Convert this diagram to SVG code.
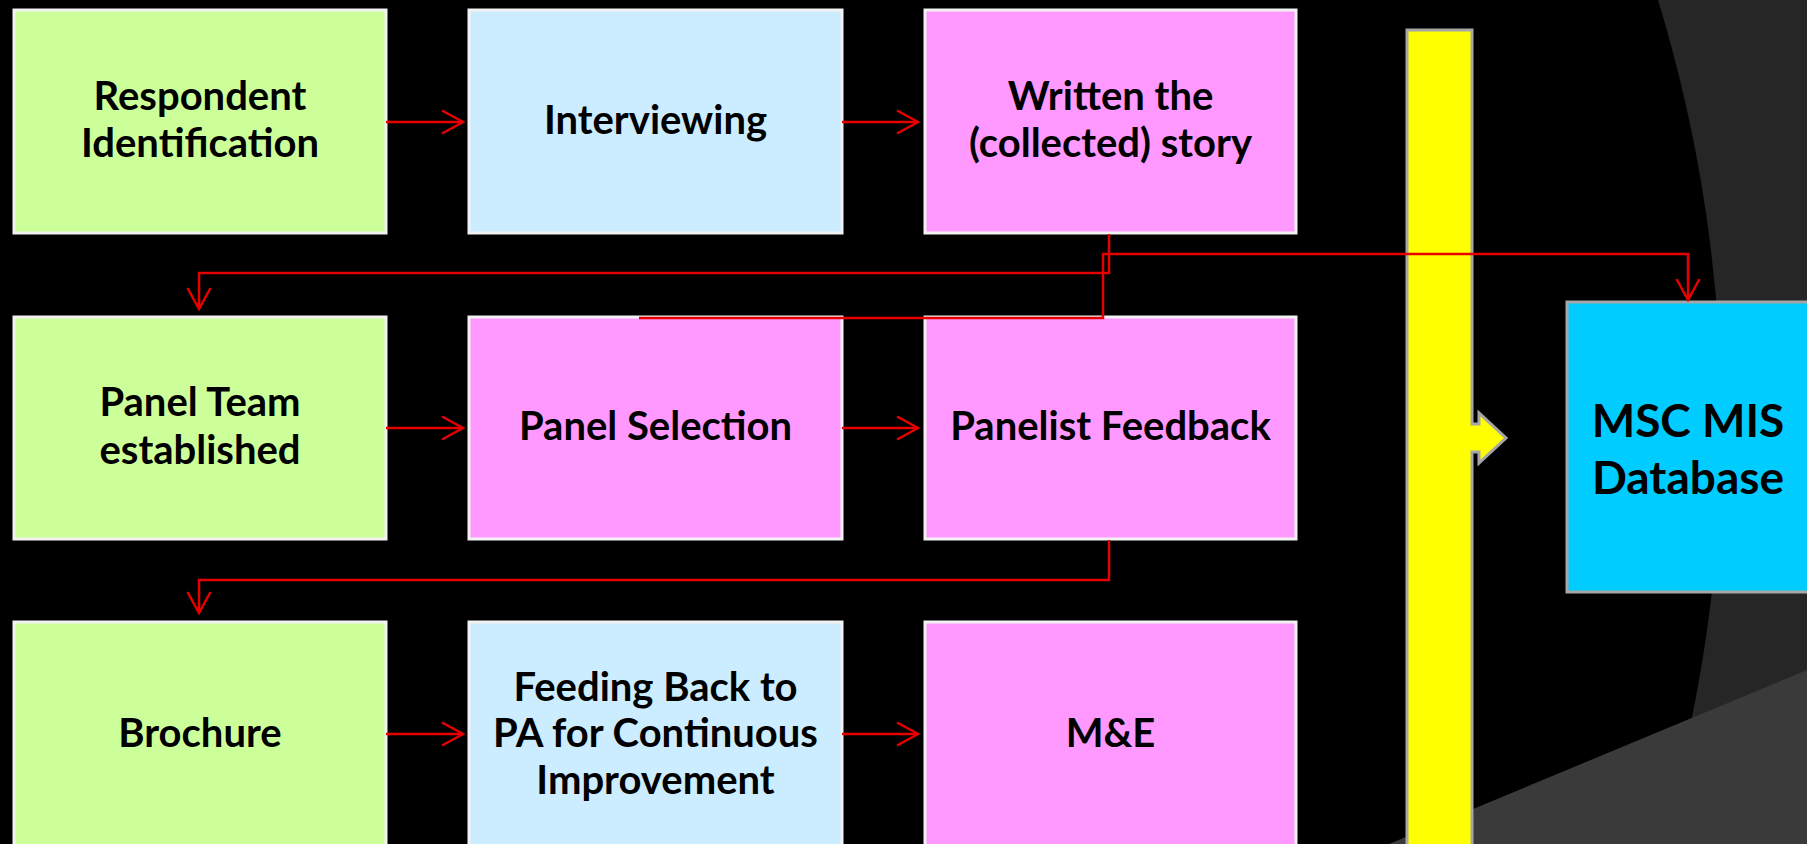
<svg xmlns="http://www.w3.org/2000/svg" width="1807" height="844" viewBox="0 0 1807 844">
<style>
.box{stroke:#F2F2F2;stroke-width:3}
.g{fill:#CCFF99}
.b{fill:#CCECFF}
.p{fill:#FF99FF}
text{font-family:Lato,"Open Sans","Liberation Sans",sans-serif;font-weight:700;font-size:40px;fill:#000;text-anchor:middle}
.big{font-size:46px}
#connectors path{fill:none;stroke:#E60000;stroke-width:2.5}
</style>
<defs>
<marker id="ah" markerUnits="userSpaceOnUse" markerWidth="26" markerHeight="26" refX="22" refY="13" orient="auto" viewBox="0 0 26 26">
<path d="M1,1.5 L22,13 L1,24.5" fill="none" stroke="#E60000" stroke-width="2.5"/>
</marker>
</defs>
<g id="background">
<rect width="1807" height="844" fill="#000"/>
<path d="M1658,0 A1455,1455 0 0 1 1660,844 L1807,844 L1807,0 Z" fill="#262626"/>
<path d="M1389,844 L1807,670 L1807,844 Z" fill="#3a3a3a"/>
</g>
<g id="yellow-bar">
<path d="M1407,30 H1472 V424 H1479 V413 L1506,438 L1479,463 V452 H1472 V860 H1407 Z" fill="#FFFF00" stroke="#A6A6A6" stroke-width="3"/>
</g>
<g id="n1"><rect class="box g" x="14" y="10" width="372" height="223"/><text x="200" y="110">Respondent</text><text x="200" y="157">Identification</text></g>
<g id="n2"><rect class="box b" x="469" y="10" width="373" height="223"/><text x="655.5" y="134">Interviewing</text></g>
<g id="n3"><rect class="box p" x="925" y="10" width="371" height="223"/><text x="1110.5" y="110">Written the</text><text x="1110.5" y="157">(collected) story</text></g>
<g id="n4"><rect class="box g" x="14" y="317" width="372" height="222"/><text x="200" y="416">Panel Team</text><text x="200" y="464">established</text></g>
<g id="n5"><rect class="box p" x="469" y="317" width="373" height="222"/><text x="655.5" y="440">Panel Selection</text></g>
<g id="n6"><rect class="box p" x="925" y="317" width="371" height="222"/><text x="1110.5" y="440">Panelist Feedback</text></g>
<g id="n7"><rect class="box g" x="14" y="622" width="372" height="240"/><text x="200" y="747">Brochure</text></g>
<g id="n8"><rect class="box b" x="469" y="622" width="373" height="240"/><text x="655.5" y="701">Feeding Back to</text><text x="655.5" y="747">PA for Continuous</text><text x="655.5" y="794">Improvement</text></g>
<g id="n9"><rect class="box p" x="925" y="622" width="371" height="240"/><text x="1110.5" y="747">M&amp;E</text></g>
<g id="n10"><rect x="1567" y="302" width="260" height="290" fill="#00CCFF" stroke="#A6A6A6" stroke-width="3"/><text class="big" x="1688" y="437">MSC MIS</text><text class="big" x="1688" y="494">Database</text></g>
<g id="connectors">
<path d="M386,122 H463" marker-end="url(#ah)"/>
<path d="M842,122 H918" marker-end="url(#ah)"/>
<path d="M386,428 H463" marker-end="url(#ah)"/>
<path d="M842,428 H918" marker-end="url(#ah)"/>
<path d="M386,734 H463" marker-end="url(#ah)"/>
<path d="M842,734 H918" marker-end="url(#ah)"/>
<path d="M1109,234 V273 H199 V309" marker-end="url(#ah)"/>
<path d="M639,318 H1103 V254 H1688 V300" marker-end="url(#ah)"/>
<path d="M1109,540 V580 H199 V613" marker-end="url(#ah)"/>
</g>
</svg>
